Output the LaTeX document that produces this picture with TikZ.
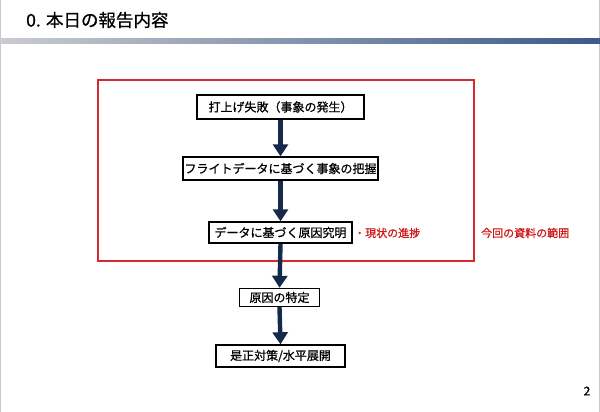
\documentclass[tikz,border=0pt]{standalone}
\usepackage{fontspec}
\setmainfont{Noto Sans CJK JP}[FakeBold=0.8]
\usetikzlibrary{arrows.meta}
\definecolor{navy}{HTML}{15294A}
\definecolor{rangered}{HTML}{D42A2F}
\definecolor{redtext}{HTML}{D01818}
\definecolor{barL}{HTML}{CACCCF}
\definecolor{barR}{HTML}{3C5A8A}
\definecolor{edgegray}{HTML}{C8C8C8}
\tikzset{
  stepbox/.style={draw=black, line width=1.4pt, fill=white, inner sep=0pt,
    font=\fontsize{12}{14}\selectfont, anchor=center},
  flow/.style={draw=navy, line width=4.4pt, -{Triangle[width=15pt,length=12pt]}},
  redlabel/.style={text=redtext, font=\fontsize{11}{13}\selectfont, inner sep=0pt}
}
\begin{document}
\begin{tikzpicture}[x=1pt,y=-1pt]
\useasboundingbox (0,0) rectangle (600,412);
\fill[white] (0,0) rectangle (600,412);
\draw[draw=edgegray, line width=1pt] (0.5,0) -- (0.5,412) (599.5,0) -- (599.5,412);
% title
\node[anchor=west, inner sep=0pt, font=\fontsize{17.5}{20}\selectfont] (title) at (26,20) {0. 本日の報告内容};
\shade[left color=barL, right color=barR] (0,38.5) rectangle (600,44);
% red range box
\draw[draw=rangered, line width=1.3pt] (98,80) rectangle (474,261);
% boxes
\node[stepbox, minimum width=167pt, minimum height=24pt] (b1) at (280.5,107) {打上げ失敗（事象の発生）};
\node[stepbox, minimum width=195pt, minimum height=23pt] (b2) at (280.5,168.5) {フライトデータに基づく事象の把握};
\node[stepbox, minimum width=143pt, minimum height=21pt] (b3) at (280.5,232.5) {データに基づく原因究明};
\node[stepbox, minimum width=80pt, minimum height=18pt] (b4) at (279.5,297.5) {原因の特定};
\node[stepbox, minimum width=129pt, minimum height=22pt] (b5) at (280.5,356) {是正対策/水平展開};
% arrows
\draw[flow] (b1.south) -- (b2.north);
\draw[flow] (b2.south) -- (b3.north);
\draw[flow] (b3.south) -- (b4.north);
\draw[flow] (b4.south) -- (b5.north);
% red labels
\node[redlabel, anchor=west] (prog) at (354,233) {・現状の進捗};
\node[redlabel, anchor=west] (scope) at (481,233) {今回の資料の範囲};
% page number
\node[inner sep=0pt, font=\fontsize{12}{14}\selectfont] (page) at (587,391) {2};
\end{tikzpicture}
\end{document}
